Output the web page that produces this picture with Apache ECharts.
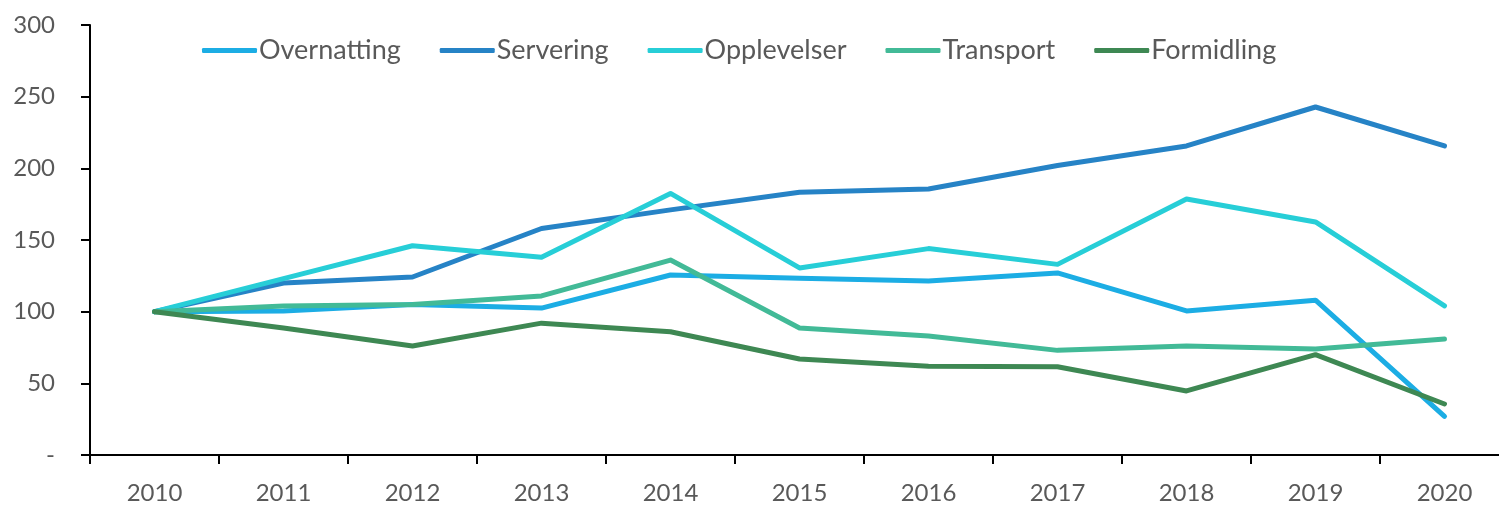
<!DOCTYPE html>
<html><head><meta charset="utf-8">
<script src="https://cdn.jsdelivr.net/npm/echarts@6/dist/echarts.min.js"></script>
<style>html,body{margin:0;padding:0;background:#fff}#c{width:1499px;height:506px}</style>
</head><body><div id="c"></div>
<script>
const years = ['2010','2011','2012','2013','2014','2015','2016','2017','2018','2019','2020'];
const seriesNames = ['Overnatting','Servering','Opplevelser','Transport','Formidling'];
const colors = ['#1CADE4','#2683C6','#27CED7','#42BA97','#3E8853'];
const overnatting = [100, 100.5, 105, 102.5, 125.6, 123.3, 121.4, 127, 100.5, 108, 27];
const servering   = [100, 120, 124.2, 158, 171, 183.3, 185.6, 202, 215.6, 242.8, 215.6];
const opplevelser = [100, 123, 146, 138, 182.5, 130.5, 144, 133, 178.6, 162.6, 104];
const transport   = [100, 104, 105, 111, 136, 88.6, 83, 73, 76, 74, 81];
const formidling  = [100, 88.6, 76, 92, 86, 67, 62, 61.6, 44.7, 70, 35.6];
const yTicks = {min: 0, max: 300, interval: 50};
const allData = [overnatting, servering, opplevelser, transport, formidling];

const font = 'Lato';
const chart = echarts.init(document.getElementById('c'), null, {renderer: 'canvas'});
chart.setOption({
  animation: false,
  backgroundColor: '#fff',
  grid: {left: 90, top: 25, width: 1419, height: 430, containLabel: false, outerBoundsMode: 'none'},
  legend: {
    top: 32, left: 197,
    icon: 'roundRect',
    itemWidth: 55, itemHeight: 5, itemGap: 39,
    textStyle: {fontFamily: font, fontSize: 27, color: '#595959', padding: [0,0,0,-3]},
    data: seriesNames
  },
  xAxis: {
    type: 'category', data: years, boundaryGap: true,
    axisLine: {show: true, lineStyle: {color: '#000', width: 2}},
    axisTick: {show: true, inside: false, length: 9, lineStyle: {color: '#000', width: 2}},
    axisLabel: {fontFamily: font, fontSize: 24, color: '#595959', margin: 26},
    splitLine: {show: false}
  },
  yAxis: {
    type: 'value', min: yTicks.min, max: yTicks.max, interval: yTicks.interval,
    axisLine: {show: true, lineStyle: {color: '#000', width: 2}},
    axisTick: {show: true, inside: false, length: 9, lineStyle: {color: '#000', width: 2}},
    axisLabel: {fontFamily: font, fontSize: 24, color: '#595959', margin: 35,
      formatter: v => v === 0 ? '-' : String(v)},
    splitLine: {show: false}
  },
  series: seriesNames.map((n, i) => ({
    name: n, type: 'line', data: allData[i], symbol: 'none', smooth: false,
    color: colors[i],
    lineStyle: {width: 5, color: colors[i], cap: 'round', join: 'round'}
  }))
});
</script></body></html>
